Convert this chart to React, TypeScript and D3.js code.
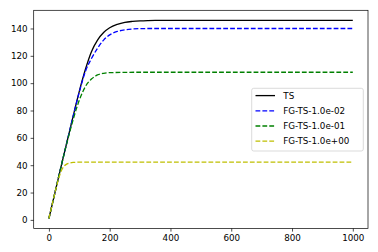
import React, { useEffect, useRef } from "react";
import { select, scaleLinear, line, axisLeft, axisBottom, curveMonotoneX } from "d3";

// values
const xsTS = [0, 20, 40, 60, 80, 100, 120, 140, 160, 180, 200, 225, 250, 275, 300, 325, 350, 400, 600, 800, 1000];
const ts = [1, 20, 39, 57.5, 76, 94, 110, 123, 131.5, 137, 140.5, 143, 144.5, 145.2, 145.6, 145.8, 145.9, 146, 146, 146, 146];

const xsBlue = [0, 20, 40, 60, 80, 100, 120, 140, 160, 180, 200, 225, 250, 275, 300, 350, 400, 600, 800, 1000];
const fg1e02 = [1, 20, 39, 57.5, 76, 93.5, 108.5, 118, 125.5, 131.5, 135.3, 137.8, 139, 139.6, 139.9, 140, 140, 140, 140, 140];

const xsGreen = [0, 20, 40, 60, 70, 80, 90, 100, 110, 120, 140, 160, 180, 200, 250, 300, 400, 600, 800, 1000];
const fg1e01 = [1, 20, 39, 57, 65.5, 73.5, 81, 87.5, 93, 97.5, 103, 106, 107.2, 107.7, 107.9, 108, 108, 108, 108, 108];

const xsYellow = [0, 10, 20, 30, 40, 50, 60, 70, 80, 100, 150, 200, 400, 600, 800, 1000];
const fg1e00 = [1, 10.5, 20, 28.5, 35.5, 39.3, 41, 41.7, 42, 42.2, 42.2, 42.2, 42.2, 42.2, 42.2, 42.2];

const xTicks = [0, 200, 400, 600, 800, 1000];
const yTicks = [0, 20, 40, 60, 80, 100, 120, 140];

const series = [
  { name: "TS", xs: xsTS, ys: ts, color: "#000000", dash: null },
  { name: "FG-TS-1.0e-02", xs: xsBlue, ys: fg1e02, color: "#0000ff", dash: "4.8,2.1" },
  { name: "FG-TS-1.0e-01", xs: xsGreen, ys: fg1e01, color: "#008000", dash: "4.8,2.1" },
  { name: "FG-TS-1.0e+00", xs: xsYellow, ys: fg1e00, color: "#bfbf00", dash: "4.8,2.1" },
];

const W = 378;
const H = 252;
const plot = { left: 33.7, right: 368, top: 10.3, bottom: 228.5 };
const font = "DejaVu Sans, sans-serif";

export default function App() {
  const svgRef = useRef<SVGSVGElement>(null);

  useEffect(() => {
    const svg = select(svgRef.current);
    svg.selectAll("*").remove();

    const x = scaleLinear().domain([-50, 1050]).range([plot.left, plot.right]);
    const y = scaleLinear().domain([-6.3, 153.3]).range([plot.bottom, plot.top]);

    const g = svg.append("g");

    const lineGen = line<[number, number]>()
      .x((d) => x(d[0]))
      .y((d) => y(d[1]))
      .curve(curveMonotoneX);

    // TS first, so the dashed ones sit on top
    series.forEach((s) => {
      const pts = s.xs.map((v, i) => [v, s.ys[i]] as [number, number]);
      const p = g
        .append("path")
        .datum(pts)
        .attr("d", lineGen)
        .attr("fill", "none")
        .attr("stroke", s.color)
        .attr("stroke-width", 1.31);
      if (s.dash) p.attr("stroke-dasharray", s.dash);
    });

    // axes
    const xAxis = axisBottom(x).tickValues(xTicks).tickSize(3.1).tickPadding(3).tickFormat((d) => String(d));
    const yAxis = axisLeft(y).tickValues(yTicks).tickSize(3.1).tickPadding(3).tickFormat((d) => String(d));

    const gx = svg.append("g").attr("transform", `translate(0,${plot.bottom})`).call(xAxis);
    const gy = svg.append("g").attr("transform", `translate(${plot.left},0)`).call(yAxis);
    [gx, gy].forEach((ax) => {
      ax.select(".domain").remove();
      ax.selectAll("line").attr("stroke", "#000").attr("stroke-width", 0.7);
      ax.selectAll("text").attr("font-family", font).attr("font-size", 8.75).attr("fill", "#000");
    });

    // frame
    svg
      .append("rect")
      .attr("x", plot.left)
      .attr("y", plot.top)
      .attr("width", plot.right - plot.left)
      .attr("height", plot.bottom - plot.top)
      .attr("fill", "none")
      .attr("stroke", "#000")
      .attr("stroke-width", 0.7);

    // legend
    const lg = svg.append("g");
    lg.append("rect")
      .attr("x", 251.7)
      .attr("y", 88.3)
      .attr("width", 111.6)
      .attr("height", 62.7)
      .attr("rx", 2)
      .attr("fill", "#fff")
      .attr("fill-opacity", 0.8)
      .attr("stroke", "#cccccc")
      .attr("stroke-width", 0.7);
    series.forEach((s, i) => {
      const cy = 95.6 + i * 15.2;
      const l = lg
        .append("line")
        .attr("x1", 255.5)
        .attr("x2", 275)
        .attr("y1", cy)
        .attr("y2", cy)
        .attr("stroke", s.color)
        .attr("stroke-width", 1.31);
      if (s.dash) l.attr("stroke-dasharray", s.dash);
      lg.append("text")
        .attr("x", 283.3)
        .attr("y", cy)
        .attr("dy", "0.35em")
        .attr("font-family", font)
        .attr("font-size", 8.75)
        .attr("fill", "#000")
        .text(s.name);
    });
  }, []);

  return (
    <svg
      ref={svgRef}
      width={W}
      height={H}
      style={{ position: "absolute", left: 0, top: 0, background: "#fff" }}
    />
  );
}
